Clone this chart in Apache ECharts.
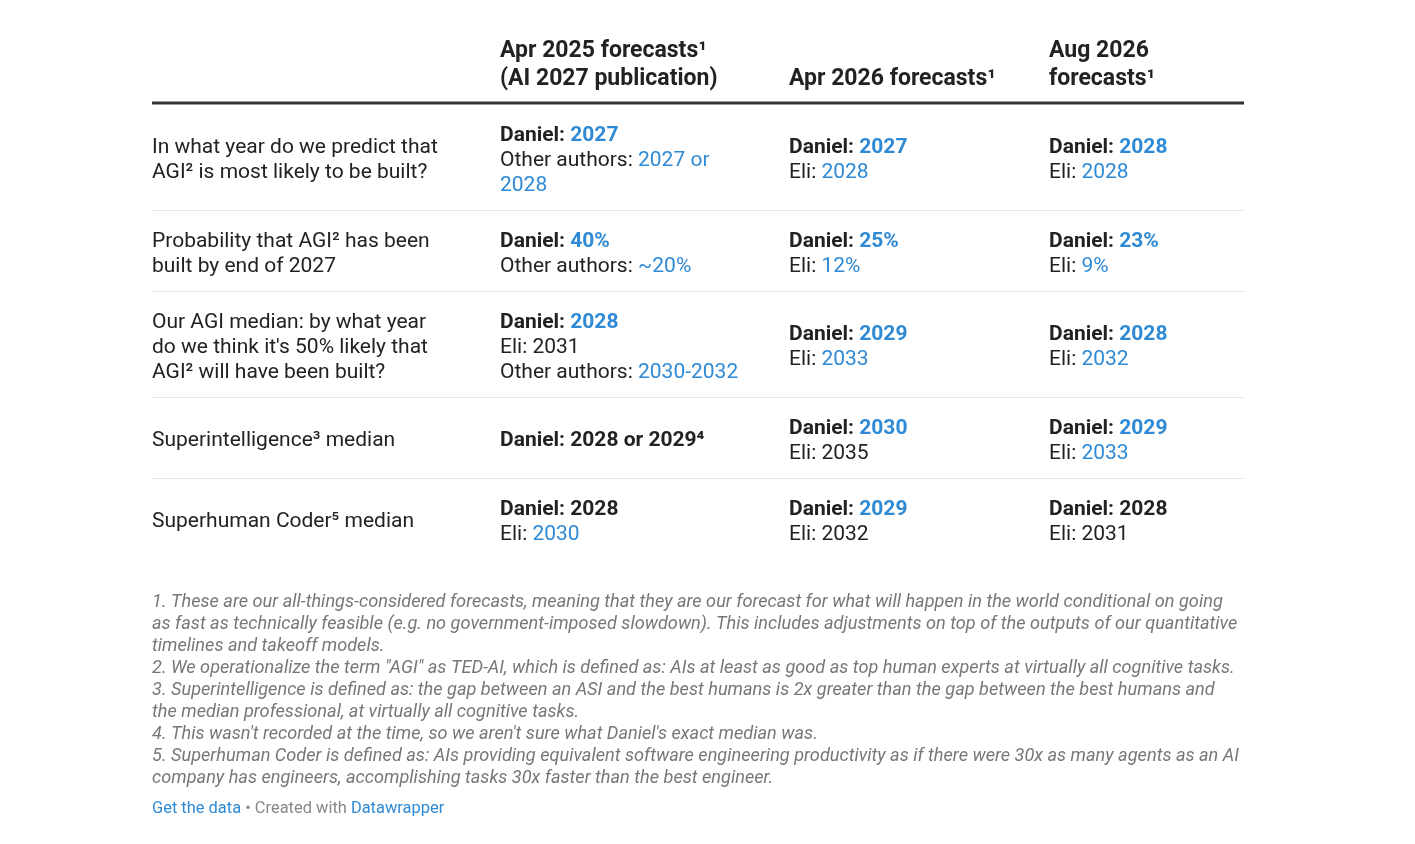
<!DOCTYPE html>
<html>
<head>
<meta charset="utf-8">
<script src="https://cdn.jsdelivr.net/npm/echarts@6/dist/echarts.min.js"></script>
<style>
  html, body { margin: 0; padding: 0; background: #fff; }
  #chart { width: 1415px; height: 844px; }
</style>
</head>
<body>
<div id="chart"></div>
<script>
// column headers (one entry per line)
var headers = [
    ["Apr 2025 forecasts¹", "(AI 2027 publication)"],
    ["Apr 2026 forecasts¹"],
    ["Aug 2026", "forecasts¹"]
];

// row questions
var questions = [
    ["In what year do we predict that", "AGI² is most likely to be built?"],
    ["Probability that AGI² has been", "built by end of 2027"],
    ["Our AGI median: by what year", "do we think it's 50% likely that", "AGI² will have been built?"],
    ["Superintelligence³ median"],
    ["Superhuman Coder⁵ median"]
];

// cell lines: [label, value, style]  style: 1st char b=bold label, 2nd char b=blue value / k=black value
var apr2025 = [
    [["Daniel: ", "2027", "bb"], ["Other authors: ", "2027 or", "nb"], ["", "2028", "nb"]],
    [["Daniel: ", "40%", "bb"], ["Other authors: ", "~20%", "nb"]],
    [["Daniel: ", "2028", "bb"], ["Eli: ", "2031", "nk"], ["Other authors: ", "2030-2032", "nb"]],
    [["Daniel: ", "2028 or 2029⁴", "bk"]],
    [["Daniel: ", "2028", "bk"], ["Eli: ", "2030", "nb"]]
];
var apr2026 = [
    [["Daniel: ", "2027", "bb"], ["Eli: ", "2028", "nb"]],
    [["Daniel: ", "25%", "bb"], ["Eli: ", "12%", "nb"]],
    [["Daniel: ", "2029", "bb"], ["Eli: ", "2033", "nb"]],
    [["Daniel: ", "2030", "bb"], ["Eli: ", "2035", "nk"]],
    [["Daniel: ", "2029", "bb"], ["Eli: ", "2032", "nk"]]
];
var aug2026 = [
    [["Daniel: ", "2028", "bb"], ["Eli: ", "2028", "nb"]],
    [["Daniel: ", "23%", "bb"], ["Eli: ", "9%", "nb"]],
    [["Daniel: ", "2028", "bb"], ["Eli: ", "2032", "nb"]],
    [["Daniel: ", "2029", "bb"], ["Eli: ", "2033", "nb"]],
    [["Daniel: ", "2028", "bk"], ["Eli: ", "2031", "nk"]]
];

var footnotes = [
    "1. These are our all-things-considered forecasts, meaning that they are our forecast for what will happen in the world conditional on going",
    "as fast as technically feasible (e.g. no government-imposed slowdown). This includes adjustments on top of the outputs of our quantitative",
    "timelines and takeoff models.",
    "2. We operationalize the term \"AGI\" as TED-AI, which is defined as: AIs at least as good as top human experts at virtually all cognitive tasks.",
    "3. Superintelligence is defined as: the gap between an ASI and the best humans is 2x greater than the gap between the best humans and",
    "the median professional, at virtually all cognitive tasks.",
    "4. This wasn't recorded at the time, so we aren't sure what Daniel's exact median was.",
    "5. Superhuman Coder is defined as: AIs providing equivalent software engineering productivity as if there were 30x as many agents as an AI",
    "company has engineers, accomplishing tasks 30x faster than the best engineer."
];

var BLUE = "#2f8ad6";
var INK = "#222222";
var FONT = "Roboto, 'Noto Sans', sans-serif";
var BODY = 21;
var DY = 2.5; // baseline nudge so "middle" matches the reference

var colX = [152, 500, 789, 1049];
var tableRight = 1244;
var lineH = 25;
var headLineH = 28;
var headBottom = 103;

function rs(weight, color, size) {
    return { fontWeight: weight, fontSize: size || BODY, fontFamily: FONT, fill: color };
}
var rich = {
    lb: rs("bold", INK),
    ln: rs("normal", INK),
    vbb: rs("bold", BLUE),
    vbk: rs("bold", INK),
    vnb: rs("normal", BLUE),
    vnk: rs("normal", INK),
    gray: rs("normal", "#888888", 16.45),
    link: rs("normal", BLUE, 16.45)
};

function txt(x, y, text, extra) {
    var style = { text: text, x: x, y: y + DY, verticalAlign: "middle", align: "left",
        fontFamily: FONT, fontSize: BODY, fill: INK, rich: rich };
    for (var k in extra) style[k] = extra[k];
    return { type: "text", style: style, silent: true };
}

var elements = [];

// header
headers.forEach(function (lines, c) {
    lines.forEach(function (line, i) {
        var y = headBottom - 26 - (lines.length - 1 - i) * headLineH;
        elements.push(txt(colX[c + 1], y, line, { fontWeight: "bold", fontSize: 23, fill: INK }));
    });
});
elements.push({ type: "rect", shape: { x: colX[0], y: headBottom - 1.5, width: tableRight - colX[0], height: 3 },
    style: { fill: "#333333" }, silent: true });

// body rows
var columns = [apr2025, apr2026, aug2026];
var rowTop = headBottom + 2;
questions.forEach(function (q, r) {
    var n = q.length;
    columns.forEach(function (col) { n = Math.max(n, col[r].length); });
    var h = n * lineH + 31;
    var placeLines = function (x, lines) {
        var start = rowTop + (h - lines.length * lineH) / 2 + lineH / 2;
        lines.forEach(function (line, i) {
            elements.push(txt(x, start + i * lineH, line));
        });
    };
    placeLines(colX[0], q);
    columns.forEach(function (col, c) {
        var lines = col[r].map(function (seg) {
            var s = "";
            if (seg[0]) s += "{" + (seg[2][0] === "b" ? "lb" : "ln") + "|" + seg[0] + "}";
            var vk = "v" + (seg[2][0] === "b" ? "b" : "n") + seg[2][1];
            s += "{" + vk + "|" + seg[1] + "}";
            return s;
        });
        placeLines(colX[c + 1], lines);
    });
    rowTop += h;
    if (r < questions.length - 1) {
        elements.push({ type: "line", shape: { x1: colX[0], y1: rowTop - 0.5, x2: tableRight, y2: rowTop - 0.5 },
            style: { stroke: "#e6e6e6", lineWidth: 1 }, silent: true });
    }
});

// footnotes
footnotes.forEach(function (line, i) {
    elements.push(txt(colX[0], 600 + i * 22, line, { fontStyle: "italic", fontSize: 18.15, fill: "#777777" }));
});

// footer
elements.push(txt(colX[0], 806, "{link|Get the data}{gray| • Created with }{link|Datawrapper}", { fontSize: 16.45 }));

var myChart = echarts.init(document.getElementById("chart"), null, { renderer: "canvas" });
myChart.setOption({
    backgroundColor: "#ffffff",
    animation: false,
    graphic: { elements: elements }
});
</script>
</body>
</html>
